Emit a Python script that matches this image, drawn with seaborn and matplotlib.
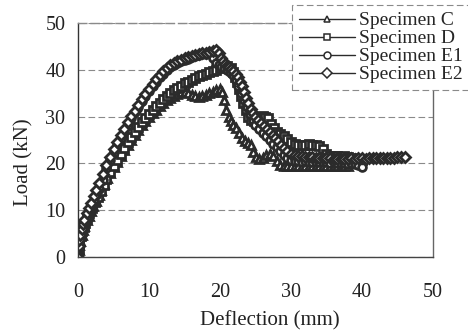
import numpy as np
import pandas as pd
import seaborn as sns
import matplotlib.pyplot as plt

# Load-deflection readings (mm, kN)
C_x = [0, 0.1, 0.2, 0.3, 0.5, 0.7, 0.9, 1.2, 1.5, 1.8, 2.1, 2.5, 2.9, 3.3, 3.7, 4.1, 4.5,
       5.0, 5.5, 6.0, 6.5, 7.0, 7.5, 8.0, 8.5, 9.0, 9.5, 10.0, 10.5, 11.0, 11.5, 12.0, 12.5,
       13.0, 13.5, 14.0, 14.5, 15.0, 15.5, 16.0, 16.5, 17.0, 17.5, 18.0, 18.5, 19.0, 19.5, 20.0,
       20.3, 20.6, 20.9, 21.2, 21.5,
       21.9, 22.3, 22.7, 23.1, 23.5, 23.9, 24.3, 24.7, 25.1, 25.5,
       26.0, 26.5, 27.0, 27.5, 28.0, 28.5, 29.0, 29.5, 30.0, 30.5, 31.0, 31.5, 32.0, 32.5,
       33.0, 33.5, 34.0, 34.5, 35.0, 35.5, 36.0, 36.5, 37.0, 37.5, 38.0]
C_y = [0, 1.5, 2.5, 3.5, 4.8, 5.8, 6.7, 7.8, 8.8, 9.8, 10.8, 12, 13.2, 14.4, 15.6, 16.8, 17.9,
       19.2, 20.4, 21.6, 22.8, 24, 25.1, 26.1, 27.1, 28.1, 29, 29.9, 30.7, 31.5, 32.2, 32.9, 33.5,
       34, 34.5, 34.9, 35.2, 35.2, 35, 34.6, 34.3, 34.2, 34.4, 34.7, 35, 35.3, 35.7, 36,
       35.2, 33.5, 31.5, 30, 29,
       28.3, 27.5, 26.5, 25.5, 24.8, 24.3, 24, 22.5, 21.3, 21,
       21.2, 21.8, 22, 21.5, 20.5, 19.6, 19.5, 19.4, 19.5, 19.4, 19.5, 19.4, 19.4, 19.5,
       19.4, 19.4, 19.5, 19.4, 19.4, 19.5, 19.4, 19.4, 19.5, 19.4, 19.4]

D_x = [0, 0.1, 0.2, 0.4, 0.6, 0.8, 1.0, 1.3, 1.6, 2.0, 2.4, 2.8, 3.2, 3.6, 4.0, 4.5,
       5.0, 5.5, 6.0, 6.5, 7.0, 7.5, 8.0, 8.5, 9.0, 9.5, 10.0, 10.5, 11.0, 11.5, 12.0, 12.5,
       13.0, 13.5, 14.0, 14.5, 15.0, 15.5, 16.0, 16.5, 17.0, 17.5, 18.0, 18.5, 19.0, 19.5,
       20.0, 20.5, 21.0, 21.5,
       21.8, 22.1, 22.4, 22.7, 23.0, 23.3, 23.6, 24.0, 24.4, 24.8, 25.2, 25.6, 26.0, 26.4,
       26.8, 27.2, 27.6, 28.0, 28.5, 29.0, 29.5, 30.0, 30.5,
       31.0, 31.5, 32.0, 32.5, 33.0, 33.5, 34.0, 34.5, 35.0, 35.5, 36.0, 36.5, 37.0, 37.5,
       38.0, 38.5, 39.0, 39.5, 40.0]
D_y = [0, 1.8, 3, 4.5, 5.6, 6.5, 7.3, 8.3, 9.3, 10.5, 11.7, 12.9, 14.1, 15.3, 16.6, 18.1,
       19.5, 20.8, 22, 23.3, 24.5, 25.6, 26.7, 27.8, 28.8, 29.8, 30.6, 31.5, 32.3, 33, 33.7, 34.4,
       35, 35.6, 36.1, 36.6, 37.1, 37.5, 37.9, 38.3, 38.6, 38.9, 39.2, 39.5, 39.8, 40,
       40.3, 40.6, 40.8, 40.4,
       39.5, 38.5, 37.5, 36, 34.5, 33, 31.5, 30, 29.2, 29, 29.5, 30, 30.2, 30,
       29.8, 28.5, 27.5, 26.8, 26.2, 25.8, 25.2, 24.5, 24.2,
       24, 24, 24, 24.2, 24, 24, 23.8, 23, 22, 21.5, 21.6, 21.5, 21.4, 21.5,
       21.3, 21.2, 21, 21, 20.8]

E1_x = [0, 0.1, 0.2, 0.3, 0.5, 0.7, 0.9, 1.2, 1.5, 1.8, 2.2, 2.6, 3.0, 3.5, 4.0, 4.5,
        5.0, 5.5, 6.0, 6.5, 7.0, 7.5, 8.0, 8.5, 9.0, 9.5, 10.0, 10.5, 11.0, 11.5, 12.0, 12.5,
        13.0, 13.5, 14.0, 14.5, 15.0, 15.5, 16.0, 16.5, 17.0, 17.5, 18.0, 18.5,
        19.0, 19.4, 19.8, 20.2, 20.6, 21.0, 21.4, 21.8, 22.2, 22.6, 23.0, 23.4, 23.8, 24.2,
        24.6, 25.0, 25.5, 26.0, 26.5, 27.0, 27.5, 28.0, 28.5, 29.0, 29.5, 30.0,
        30.5, 31.0, 31.5, 32.0, 32.5, 33.0, 33.5, 34.0, 34.5, 35.0, 35.5, 36.0, 36.5, 37.0,
        37.5, 38.0, 38.5, 39.0, 39.5, 40.0]
E1_y = [0, 2, 3.2, 4.2, 5.3, 6.3, 7.1, 8.3, 9.4, 10.5, 11.8, 13.2, 14.6, 16.4, 19, 20.8,
        22.5, 24, 25.5, 26.9, 28.3, 29.6, 30.9, 32.1, 33.3, 34.4, 35.5, 36.5, 37.5, 38.4, 39.2, 39.9,
        40.5, 41, 41.4, 41.8, 42.1, 42.4, 42.7, 42.9, 43.1, 43.3, 43.4, 43.5,
        42.5, 41.5, 41, 40.5, 40.3, 40, 39.5, 38.8, 37.8, 36.5, 35, 33.5, 32, 30.5,
        29.2, 28.2, 27.3, 26.5, 25.8, 25, 24.2, 23.4, 22.6, 21.8, 21.2, 20.8,
        20.6, 20.5, 20.4, 20.5, 20.3, 20.4, 20.3, 20.2, 20.3, 20.2, 20.1, 20.2, 20, 20.1,
        20, 19.9, 20, 19.8, 19.6, 19.2]

E2_x = [0, 0.1, 0.2, 0.3, 0.5, 0.7, 0.9, 1.2, 1.5, 1.8, 2.2, 2.6, 3.0, 3.5, 4.0, 4.5,
        5.0, 5.5, 6.0, 6.5, 7.0, 7.5, 8.0, 8.5, 9.0, 9.5, 10.0, 10.5, 11.0, 11.5, 12.0, 12.5,
        13.0, 13.5, 14.0, 14.5, 15.0, 15.5, 16.0, 16.5, 17.0, 17.5, 18.0, 18.5, 19.0, 19.5,
        19.8, 20.1, 20.4, 20.7, 21.0, 21.3, 21.6, 21.9, 22.2, 22.5, 22.8, 23.1, 23.4, 23.7,
        24.0, 24.3, 24.6, 25.0, 25.4, 25.8, 26.2, 26.6, 27.0, 27.4, 27.8, 28.2, 28.6, 29.0,
        29.5, 30.0,
        30.5, 31.0, 31.5, 32.0, 32.5, 33.0, 33.5, 34.0, 34.5, 35.0, 35.5, 36.0, 36.5, 37.0,
        37.5, 38.0, 38.5, 39.0, 39.5, 40.0, 40.5, 41.0, 41.5, 42.0, 42.5, 43.0, 43.5, 44.0,
        44.5, 45.0, 45.5, 46.0]
E2_y = [0, 2.3, 3.6, 4.7, 5.9, 7, 8, 9.3, 10.5, 11.6, 13, 14.4, 15.8, 17.8, 19.6, 21.3,
        23, 24.5, 26, 27.4, 28.8, 30.1, 31.3, 32.5, 33.7, 34.9, 36, 37, 38, 38.9, 39.8, 40.4,
        41, 41.5, 41.9, 42.2, 42.5, 42.8, 43, 43.2, 43.4, 43.5, 43.6, 43.8, 44, 44.3,
        43.5, 42.5, 41.8, 41.2, 40.8, 40.5, 40.2, 39.8, 39.2, 38.5, 37.5, 36.5, 35.3, 34,
        32.8, 31.7, 30.8, 30, 29.3, 28.6, 28, 27.3, 26.7, 26.1, 25.5, 24.8, 24, 23.3,
        22.6, 22.1,
        21.8, 21.6, 21.5, 21.4, 21.3, 21.3, 21.2, 21.2, 21.1, 21.1, 21.1, 21, 21, 21,
        21, 21, 21.1, 21, 21.1, 21.1, 21, 21.1, 21.1, 21.1, 21.2, 21.1, 21.2, 21.2,
        21.2, 21.3, 21.3, 21.3]

SERIES = ['Specimen C', 'Specimen D', 'Specimen E1', 'Specimen E2']
MARKERS = ['^', 's', 'o', 'D']
X_TICKS = [0, 10, 20, 30, 40, 50]
Y_TICKS = [0, 10, 20, 30, 40, 50]

sns.set_theme(style='white')
plt.rcParams['font.family'] = ['Liberation Serif', 'DejaVu Serif']

W, H = 468, 332
fig = plt.figure(figsize=(W / 100, H / 100), dpi=100)
fig.patch.set_facecolor('white')
ax = fig.add_axes([78 / W, 1 - 257 / H, (433 - 78) / W, (257 - 23) / H])

ink = '#2b2b2b'
data = [(C_x, C_y), (D_x, D_y), (E1_x, E1_y), (E2_x, E2_y)]
for name, mk, (xs, ys) in zip(SERIES, MARKERS, data):
    df = pd.DataFrame({'Deflection': xs, 'Load': ys})
    sns.lineplot(data=df, x='Deflection', y='Load', ax=ax, sort=False, estimator=None,
                 color=ink, lw=1.8, marker=mk, markersize=5.6 if mk != 'D' else 4.9,
                 markerfacecolor='white', markeredgecolor=ink, markeredgewidth=2.0,
                 label=name)

ax.set_xlim(0, 50)
ax.set_ylim(0, 50)
ax.set_xticks(X_TICKS)
ax.set_yticks(Y_TICKS)
ax.tick_params(axis='x', direction='in', length=4, width=0.8, color='#555',
               labelsize=14.5, pad=19, labelcolor='#222')
ax.tick_params(axis='y', length=0, labelsize=14.5, pad=9, labelcolor='#222')

ax.yaxis.grid(True, linestyle=(0, (6, 3)), color='#8a8a8a', lw=0.8)
ax.xaxis.grid(False)
ax.spines['top'].set_linestyle((0, (6, 3)))
ax.spines['top'].set_color('#8a8a8a')
ax.spines['right'].set_color('#666')
ax.spines['left'].set_color('#333')
ax.spines['bottom'].set_color('#444')
for s in ax.spines.values():
    s.set_linewidth(1.0)

ax.set_xlabel('Deflection (mm)', fontsize=15, color='#222')
ax.set_ylabel('Load (kN)', fontsize=15, color='#222')
ax.xaxis.set_label_coords((270 - 78) / 355, -(311 - 257) / 234)
ax.yaxis.set_label_coords((33 - 78) / 355, 1 - (162 - 23) / 234)

leg = ax.legend(loc='upper left', bbox_to_anchor=(292 / W, 1 - 5 / H),
                bbox_transform=fig.transFigure, fontsize=14, frameon=True,
                fancybox=False, framealpha=1, edgecolor='#8a8a8a',
                handlelength=2.9, handletextpad=0.2, labelspacing=0.02,
                borderpad=0.35, borderaxespad=0)
leg.get_frame().set_linestyle((0, (6, 3)))
leg.get_frame().set_linewidth(0.8)
for h in leg.legend_handles:
    h.set_linewidth(1.0)
    h.set_markeredgewidth(1.1)
    h.set_markersize(5)
leg.set_zorder(10)

fig.savefig('out.png', dpi=100, facecolor='white')
